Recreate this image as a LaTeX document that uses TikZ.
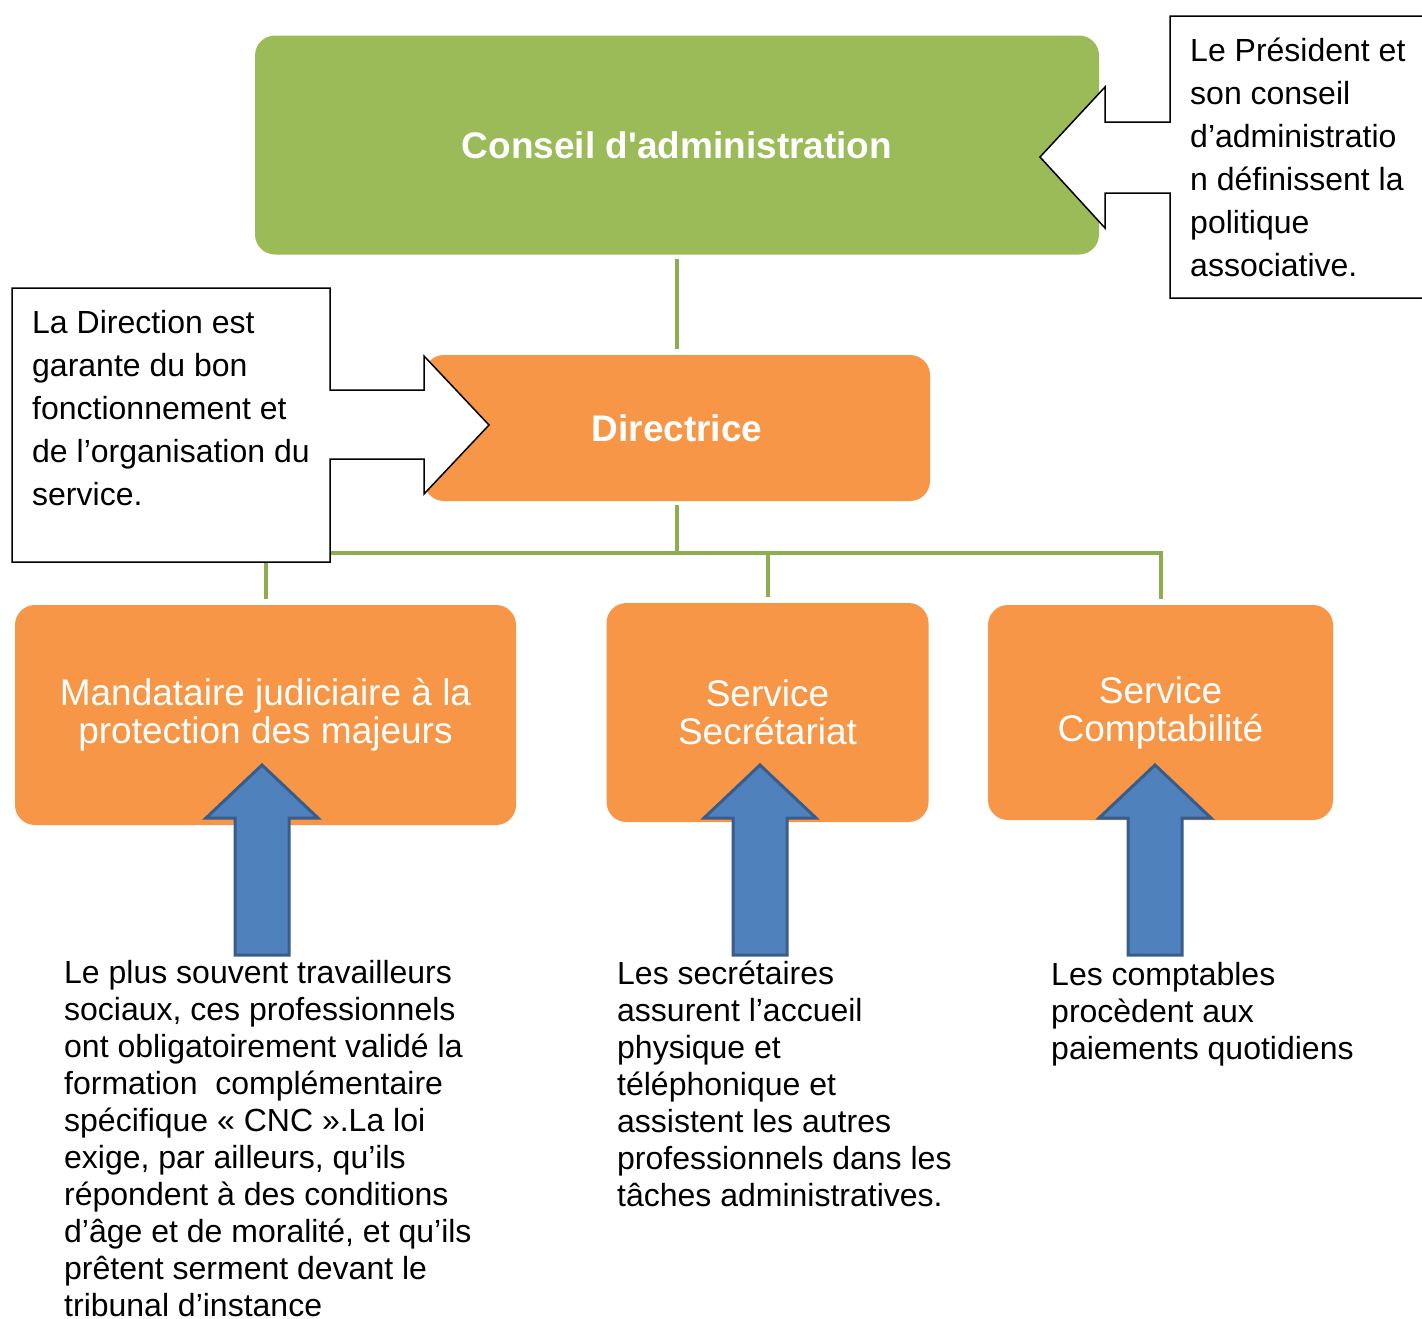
\documentclass[tikz,border=0pt]{standalone}
\usepackage{fontspec}
\setmainfont{Liberation Sans}[Ligatures=TeXOff]
\usepackage{tikz}
\usetikzlibrary{arrows}
\usetikzlibrary{calc}

\definecolor{cagreen}{HTML}{9BBB59}
\definecolor{linkgreen}{HTML}{8DAD50}
\definecolor{servorange}{HTML}{F79646}
\definecolor{arrowblue}{HTML}{4F81BD}
\definecolor{arrowedge}{HTML}{385D8A}

\begin{document}
\begin{tikzpicture}[x=1pt,y=-1pt,main box/.style={rounded corners=20pt,inner sep=0pt,align=center,text=white},green box/.style={main box,fill=cagreen,font=\fontsize{37}{38}\selectfont\bfseries},orange box/.style={main box,fill=servorange,font=\fontsize{37}{38}\selectfont},link/.style={draw=linkgreen,line width=4pt},callout/.style={draw=black,fill=white,line width=1.5pt},callout text/.style={align=left,inner sep=0pt,anchor=base west,font=\fontsize{32}{43}\selectfont},note text/.style={align=left,inner sep=0pt,anchor=base west,font=\fontsize{32}{37}\selectfont},block arrow/.style={draw=arrowedge,fill=arrowblue,line width=3pt,line join=miter}]

				\useasboundingbox (0,0) rectangle (1422,1318);

				% boxes
				\node[green box,minimum width=844pt,minimum height=219pt] (CA) at (677,145) {Conseil d'administration};
				\node[orange box,minimum width=506pt,minimum height=146pt,font=\fontsize{37}{38}\selectfont\bfseries] (dir) at (677,428) {Directrice};
				\node[orange box,minimum width=501pt,minimum height=220pt] (mand) at (265.5,715) {Mandataire judiciaire à la\\protection des majeurs};
				\node[orange box,minimum width=322pt,minimum height=219pt] (secr) at (767.5,712.5) {Service\\Secrétariat};
				\node[orange box,minimum width=345pt,minimum height=215pt] (compt) at (1160.5,712.5) {Service\\Comptabilité};

				% links
				\coordinate (bus) at (677,553);
				\draw[link,shorten <=4pt,shorten >=6pt] (CA.south) -- (dir.north);
				\draw[link,shorten <=4pt] (dir.south) -- (bus);
				\draw[link,shorten >=6pt] (bus) -| (mand.north);
				\draw[link,shorten >=6pt] (bus) -| (secr.north);
				\draw[link,shorten >=6pt] (bus) -| (compt.north);

				% callouts (text nodes sit on their last baseline)
				\draw[callout] (12,288) -- (330,288) -- (330,390) -- (424,390) -- (424,356) -- (489,425) -- (424,494) -- (424,459) -- (330,459) -- (330,562) -- (12,562) -- cycle;
				\draw[callout] (1430,16) -- (1170,16) -- (1170,122) -- (1105,122) -- (1105,87) -- (1040,157) -- (1105,228) -- (1105,193) -- (1170,193) -- (1170,298) -- (1430,298);
				\node[callout text] (noteDir) at (32,505) {La Direction est\\garante du bon\\fonctionnement et\\de l’organisation du\\service.};
				\node[callout text] (noteCA) at (1190,276) {Le Président et\\son conseil\\d’administratio\\n définissent la\\politique\\associative.};

				% up arrows
				\foreach \x in {262,760,1155}
					\draw[block arrow] (\x,765) -- (\x+56,818) -- (\x+27,818) -- (\x+27,955) -- (\x-27,955) -- (\x-27,818) -- (\x-56,818) -- cycle;

				% notes
				\node[note text] (noteMand) at (64,1316) {Le plus souvent travailleurs\\sociaux, ces professionnels\\ont obligatoirement validé la\\formation~ complémentaire\\spécifique « CNC ».La loi\\exige, par ailleurs, qu’ils\\répondent à des conditions\\d’âge et de moralité, et qu’ils\\prêtent serment devant le\\tribunal d’instance};
				\node[note text] (noteSecr) at (617,1206) {Les secrétaires\\assurent l’accueil\\physique et\\téléphonique et\\assistent les autres\\professionnels dans les\\tâches administratives.};
				\node[note text] (noteCompt) at (1051,1059) {Les comptables\\procèdent aux\\paiements quotidiens};

\end{tikzpicture}
\end{document}
